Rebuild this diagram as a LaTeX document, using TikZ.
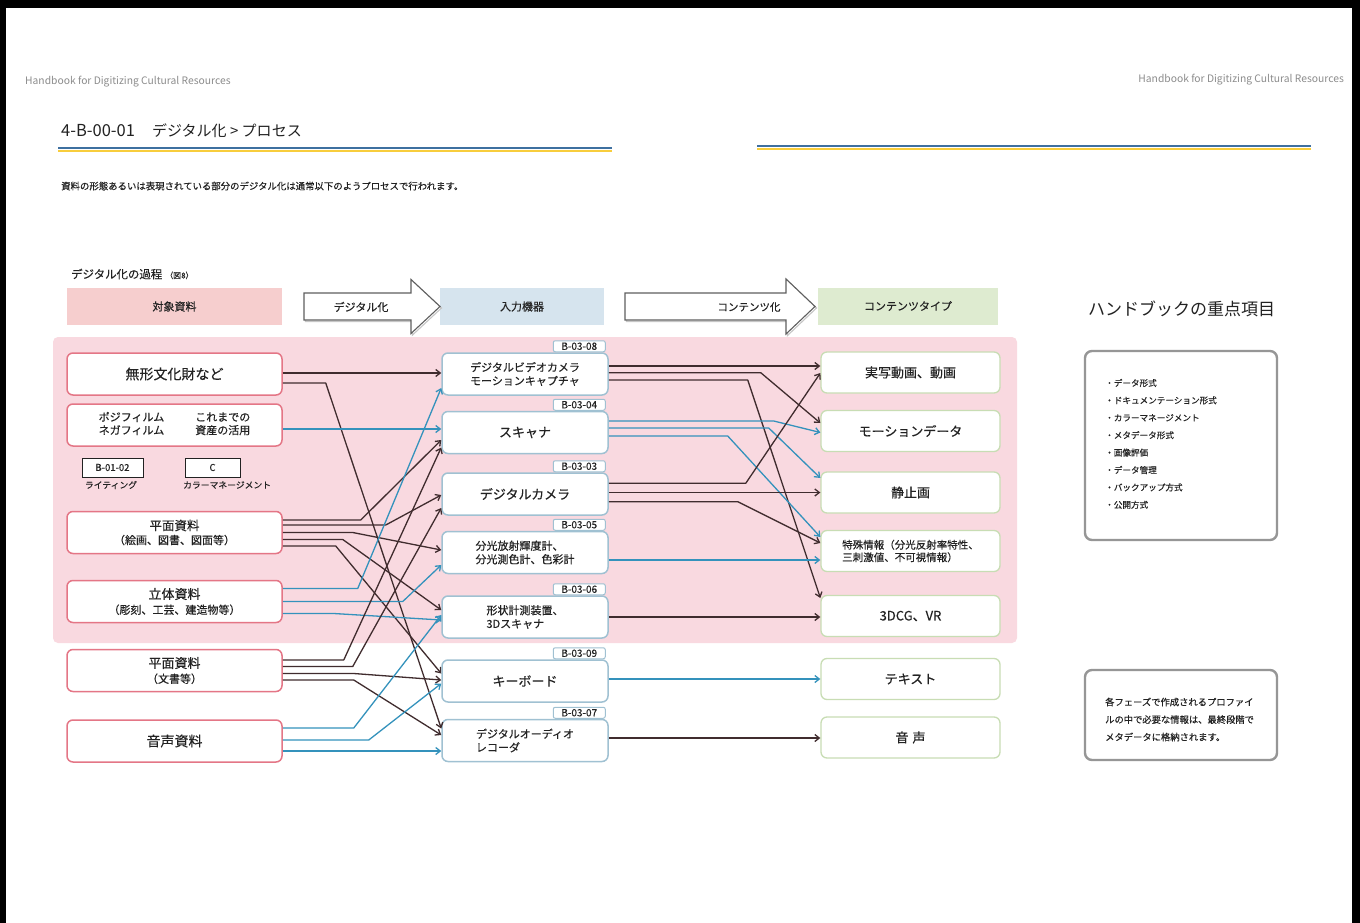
\documentclass[tikz,border=0pt]{standalone}
\usepackage{fontspec}
\setmainfont{Noto Sans CJK JP}
\newfontfamily\heavy{Noto Sans CJK JP}[FakeBold=0.3]
\usetikzlibrary{arrows.meta,calc}

\definecolor{ink}{RGB}{34,34,34}
\definecolor{dk}{RGB}{64,44,46}
\definecolor{bl}{RGB}{52,146,188}
\definecolor{pinkbg}{RGB}{249,217,224}
\definecolor{lborder}{RGB}{228,118,134}
\definecolor{mborder}{RGB}{160,193,210}
\definecolor{rborder}{RGB}{200,221,180}
\definecolor{hpink}{RGB}{246,206,206}
\definecolor{hblue}{RGB}{214,228,238}
\definecolor{hgreen}{RGB}{222,235,208}
\definecolor{runhead}{RGB}{140,140,140}
\definecolor{ruleblue}{RGB}{62,112,160}
\definecolor{ruleyellow}{RGB}{248,205,60}
\definecolor{panel}{RGB}{150,150,150}
\definecolor{arrowgray}{RGB}{95,95,95}

\newcommand\fsz[2]{\fontsize{#1}{#2}\selectfont}

\begin{document}
\begin{tikzpicture}[x=1pt,y=-1pt,
  src/.style={draw=lborder, line width=1.5pt, fill=white, rounded corners=6pt,
    minimum width=215pt, minimum height=42pt, inner sep=0pt, align=center, text=ink},
  dev/.style={draw=mborder, line width=1.5pt, fill=white, rounded corners=6pt,
    minimum width=166pt, minimum height=42pt, inner sep=0pt, align=left, text=ink},
  ctype/.style={draw=rborder, line width=1.3pt, fill=white, rounded corners=6pt,
    minimum width=179pt, minimum height=41pt, inner sep=0pt, align=left, text=ink},
  devtag/.style={draw=mborder, line width=1pt, fill=white, rounded corners=2pt,
    minimum width=52pt, minimum height=11pt, inner sep=0pt, text=ink,
    font=\heavy\fsz{10}{10}, anchor=south east},
  hdr/.style={minimum height=37pt, inner sep=0pt, text=ink, font=\heavy\fsz{11}{12}},
  refbox/.style={draw=ink, line width=1pt, fill=white, minimum height=19pt,
    inner sep=0pt, font=\heavy\fsz{9.5}{10}, text=ink},
  dkc/.style={draw=dk, line width=1.3pt, line join=round,
    -{Straight Barb[length=4.5pt,width=7pt]}},
  blc/.style={dkc, draw=bl},
  panelbox/.style={draw=panel, line width=2.4pt, rounded corners=7pt, fill=white, inner sep=0pt},
  bigarrow/.style={draw=arrowgray, line width=1.1pt, fill=white, line join=miter},
  txt/.style={inner sep=0pt, text=ink}
]
\useasboundingbox (0,0) rectangle (1360,923);
\fill[white] (0,0) rectangle (1360,923);

% page frame
\fill[black] (0,0) rectangle (1360,8);
\fill[black] (0,0) rectangle (6,923);
\fill[black] (1352,0) rectangle (1360,923);

% running heads
\node[txt, anchor=west, text=runhead, font=\fsz{10.3}{11}] (rhL) at (25,82) {Handbook for Digitizing Cultural Resources};
\node[txt, anchor=east, text=runhead, font=\fsz{10.3}{11}] (rhR) at (1344,80) {Handbook for Digitizing Cultural Resources};

% section title and rules
\node[txt, anchor=west, font=\fsz{15}{16}] (title) at (61,131) {{\fsz{16.5}{17}4-B-00-01}\hspace{17pt}デジタル化 > プロセス};
\draw[ruleblue, line width=2pt] (58,148) -- (612,148);
\draw[ruleyellow, line width=2.6pt] (58,151.2) -- (612,151.2);
\draw[ruleblue, line width=2pt] (757,146) -- (1311,146);
\draw[ruleyellow, line width=2.6pt] (757,149.2) -- (1311,149.2);

\node[txt, anchor=west, font=\heavy\fsz{9.4}{10}] (intro) at (61,186) {資料の形態あるいは表現されている部分のデジタル化は通常以下のようプロセスで行われます。};

% figure caption and column headers
\node[txt, anchor=west, font=\heavy\fsz{11.4}{12}] (figcap) at (71,274) {デジタル化の過程\hspace{3pt}{\fsz{8}{9}（図8）}};
\node[hdr, fill=hpink, minimum width=215pt] (h1) at (174.5,306.5) {対象資料};
\node[hdr, fill=hblue, minimum width=164pt] (h2) at (522,306.5) {入力機器};
\node[hdr, fill=hgreen, minimum width=180pt] (h3) at (908,306) {コンテンツタイプ};

% block arrows between the headers
\draw[gray!45, line width=1.1pt, shift={(1.5,1.5)}] (304,293) -- (411,293) -- (411,279.5) -- (440,306.5) -- (411,333.5) -- (411,320) -- (304,320) -- cycle;
\draw[bigarrow] (304,293) -- (411,293) -- (411,279.5) -- (440,306.5) -- (411,333.5) -- (411,320) -- (304,320) -- cycle;
\node[txt, font=\heavy\fsz{11}{12}] (a1) at (361,307) {デジタル化};
\draw[gray!45, line width=1.1pt, shift={(1.5,1.5)}] (625,293) -- (786,293) -- (786,279) -- (815,306.5) -- (786,334) -- (786,320) -- (625,320) -- cycle;
\draw[bigarrow] (625,293) -- (786,293) -- (786,279) -- (815,306.5) -- (786,334) -- (786,320) -- (625,320) -- cycle;
\node[txt, font=\heavy\fsz{10.5}{12}] (a2) at (749,307) {コンテンツ化};

% shaded band behind the image-related rows
\fill[pinkbg, rounded corners=5pt] (53,337) rectangle (1017,643);

% source materials
\node[src, font=\heavy\fsz{14}{15}] (L1) at (174.5,374) {無形文化財など};
\node[src, font=\heavy\fsz{11}{13}] (L2) at (174.5,425) {%
  \begin{tabular}{@{}l@{\hspace{31pt}}l@{}}ポジフィルム & これまでの\\ ネガフィルム & 資産の活用\end{tabular}};
\node[src, font=\heavy\fsz{12.5}{14}] (L3) at (174.5,532.5) {平面資料\\{\fsz{11}{13}（絵画、図書、図面等）}};
\node[src, font=\heavy\fsz{13}{15}] (L4) at (174.5,601.5) {立体資料\\{\fsz{11}{13}（彫刻、工芸、建造物等）}};
\node[src, font=\heavy\fsz{13}{15}] (L5) at (174.5,670.5) {平面資料\\{\fsz{11}{13}（文書等）}};
\node[src, font=\heavy\fsz{14}{15}] (L6) at (174.5,741) {音声資料};

% reference boxes
\node[refbox, minimum width=61pt] (rb1) at (112.5,467.5) {B-01-02};
\node[refbox, minimum width=55pt] (rb2) at (212.5,467.5) {C};
\node[txt, font=\heavy\fsz{8.8}{9}] (rb1l) at (111,485) {ライティング};
\node[txt, anchor=west, font=\heavy\fsz{8.8}{9}] (rb2l) at (183,485) {カラーマネージメント};

% input devices
\node[dev, font=\heavy\fsz{11}{13.5}] (M1) at (525,374) {デジタルビデオカメラ\\モーションキャプチャ};
\node[dev, font=\heavy\fsz{13}{14}] (M2) at (525,432.5) {スキャナ};
\node[dev, font=\heavy\fsz{13}{14}] (M3) at (525,494) {デジタルカメラ};
\node[dev, font=\heavy\fsz{11}{13.5}] (M4) at (525,552.5) {分光放射輝度計、\\分光測色計、色彩計};
\node[dev, font=\heavy\fsz{11}{13.5}] (M5) at (525,617) {形状計測装置、\\3Dスキャナ};
\node[dev, font=\heavy\fsz{13}{14}] (M6) at (525,681) {キーボード};
\node[dev, font=\heavy\fsz{11}{13.5}] (M7) at (525,740.5) {デジタルオーディオ\\レコーダ};

\node[devtag] (t1) at ($(M1.north east)+(-3,0)$) {B-03-08};
\node[devtag] (t2) at ($(M2.north east)+(-3,0)$) {B-03-04};
\node[devtag] (t3) at ($(M3.north east)+(-3,0)$) {B-03-03};
\node[devtag] (t4) at ($(M4.north east)+(-3,0)$) {B-03-05};
\node[devtag] (t5) at ($(M5.north east)+(-3,0)$) {B-03-06};
\node[devtag] (t6) at ($(M6.north east)+(-3,0)$) {B-03-09};
\node[devtag] (t7) at ($(M7.north east)+(-3,0)$) {B-03-07};

% content types
\node[ctype, font=\heavy\fsz{13}{14}] (R1) at (910.5,372.5) {実写動画、動画};
\node[ctype, font=\heavy\fsz{13}{14}] (R2) at (910.5,431) {モーションデータ};
\node[ctype, font=\heavy\fsz{13}{14}] (R3) at (910.5,492.5) {静止画};
\node[ctype, font=\heavy\fsz{10.5}{12.5}] (R4) at (910.5,551) {特殊情報（分光反射率特性、\\三刺激値、不可視情報）};
\node[ctype, font=\heavy\fsz{13}{14}] (R5) at (910.5,616) {3DCG、VR};
\node[ctype, font=\heavy\fsz{13}{14}] (R6) at (910.5,679) {テキスト};
\node[ctype, font=\heavy\fsz{13}{14}] (R7) at (910.5,737.5) {音\hspace{4pt}声};

% materials -> devices
\draw[dkc] ($(L1.east)+(0,-1)$) -- ($(M1.west)+(0,-1)$);
\draw[dkc] ($(L1.east)+(0,9)$) -- ++(43,0) -- ($(M7.west)+(0,-12)$);
\draw[blc] ($(L2.east)+(0,4)$) -- ($(M2.west)+(0,-3.5)$);
\draw[dkc] ($(L3.east)+(0,-12.5)$) -- ++(78,0) -- ($(M2.west)+(0,7.5)$);
\draw[dkc] ($(L3.east)+(0,-7.5)$) -- ++(103,0) -- ($(M3.west)+(0,1)$);
\draw[dkc] (L3.east) -- ++(70,0) -- ($(M4.west)+(0,-2.5)$);
\draw[dkc] ($(L3.east)+(0,7)$) -- ++(60,0) -- ($(M5.west)+(0,-7)$);
\draw[dkc] ($(L3.east)+(0,13.5)$) -- ++(53,0) -- ($(M6.west)+(0,-7.5)$);
\draw[blc] ($(L4.east)+(0,-13)$) -- ++(75,0) -- ($(M1.west)+(0,14)$);
\draw[blc] (L4.east) -- ++(120,0) -- ($(M4.west)+(0,12.5)$);
\draw[blc] ($(L4.east)+(0,12)$) -- ++(51,0) -- ($(M5.west)+(0,3)$);
\draw[dkc] ($(L5.east)+(0,-10.5)$) -- ++(61,0) -- ($(M2.west)+(0,15)$);
\draw[dkc] ($(L5.east)+(0,-4)$) -- ++(70,0) -- ($(M3.west)+(0,14)$);
\draw[dkc] ($(L5.east)+(0,3)$) -- ++(71,0) -- ($(M6.west)+(0,-1)$);
\draw[dkc] ($(L5.east)+(0,9.5)$) -- ++(71,0) -- ($(M7.west)+(0,-5.5)$);
\draw[blc] ($(L6.east)+(0,-13)$) -- ++(71,0) -- ($(M5.west)+(0,-2)$);
\draw[blc] ($(L6.east)+(0,-1)$) -- ++(86,0) -- ($(M6.west)+(0,2.5)$);
\draw[blc] ($(L6.east)+(0,10)$) -- ($(M7.west)+(0,10.5)$);

% devices -> content types
\draw[dkc] ($(M1.east)+(0,-8)$) -- ($(R1.west)+(0,-6.5)$);
\draw[dkc] ($(M1.east)+(0,-1.3)$) -- ++(152,0) -- ($(R2.west)+(0,-8)$);
\draw[dkc] ($(M1.east)+(0,6)$) -- ++(139,0) -- ($(R5.west)+(0,-18)$);
\draw[blc] ($(M2.east)+(0,-11.5)$) -- ++(165,0) -- ($(R2.west)+(0,1.5)$);
\draw[blc] ($(M2.east)+(0,-4.5)$) -- ++(160,0) -- ($(R3.west)+(0,-14.5)$);
\draw[blc] ($(M2.east)+(0,3.5)$) -- ++(119,0) -- ($(R4.west)+(0,-14)$);
\draw[dkc] ($(M3.east)+(0,-10.7)$) -- ++(137,0) -- ($(R1.west)+(0,0.5)$);
\draw[dkc] ($(M3.east)+(0,-1.5)$) -- (R3.west);
\draw[dkc] ($(M3.east)+(0,7.7)$) -- ++(129,0) -- ($(R4.west)+(0,-8)$);
\draw[blc] ($(M4.east)+(0,7.5)$) -- ($(R4.west)+(0,9)$);
\draw[dkc] (M5.east) -- ($(R5.west)+(0,1)$);
\draw[blc] ($(M6.east)+(0,-2)$) -- (R6.west);
\draw[dkc] ($(M7.east)+(0,-2.5)$) -- ($(R7.west)+(0,0.5)$);

% handbook key topics
\node[txt, anchor=west, font=\fsz{17}{18}] (hbTitle) at (1088,309) {ハンドブックの重点項目};
\node[panelbox, minimum width=192pt, minimum height=189pt] (P1) at (1181,445.5) {};
\foreach \item [count=\i] in {・データ形式, ・ドキュメンテーション形式, ・カラーマネージメント,
    ・メタデータ形式, ・画像評価, ・データ管理, ・バックアップ方式, ・公開方式}
  \node[txt, anchor=west, font=\heavy\fsz{8.6}{9}] (item\i) at (1105,{383+17.4*(\i-1)}) {\item};

\node[panelbox, minimum width=192pt, minimum height=90pt] (P2) at (1181,715) {};
\node[txt, anchor=west, align=left, font=\heavy\fsz{9.3}{17.5}] (note) at (1105,719.5)
  {各フェーズで作成されるプロファイ\\ルの中で必要な情報は、最終段階で\\メタデータに格納されます。};
\end{tikzpicture}
\end{document}
